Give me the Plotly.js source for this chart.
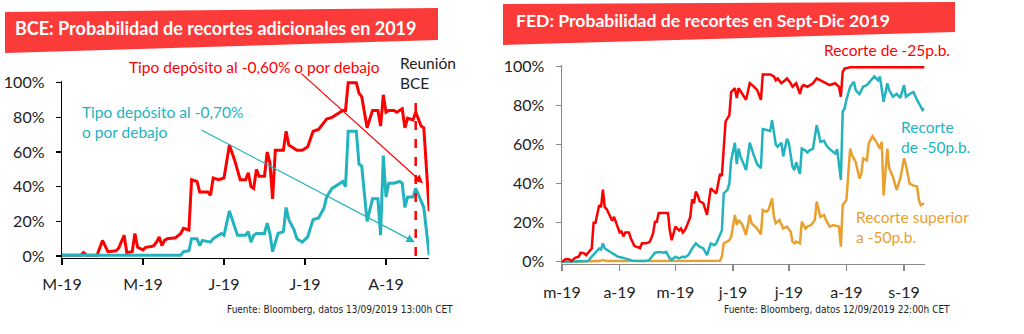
<!DOCTYPE html>
<html>
<head>
<meta charset="utf-8">
<script src="https://cdn.plot.ly/plotly-3.0.1.min.js"></script>
<style>
  html, body { margin: 0; padding: 0; background: #ffffff; }
  #chart { width: 1024px; height: 334px; }
</style>
</head>
<body>
<div id="chart"></div>
<script>
// ---------------- DATA ----------------
// BCE panel: x = trading session index (30 sessions per tick)
const bceTickVals = [0, 30, 60, 90, 120];
const bceTickText = ['M-19', 'M-19', 'J-19', 'J-19', 'A-19'];
const bceMeetingSession = 131;

const bce060Session = [0,7,8,9,13,15,17,20,21,23,24,26,27,28,30,31,33,34,35,36,37,38,39,42,44,45,47,48,50,51,54,55,56,58,60,62,64,66,68,69,70,71,72,73,75,76,77,78,79,82,83,84,85,87,89,91,93,95,97,98,100,102,104,105,106,109,110,111,113,115,117,118,119,120,121,123,124,126,127,128,130,131,133,134,136];
const bce060Prob    = [0.5,0.5,2,0.5,0.5,9,2.5,3,4.5,12,2,2.5,13,5,3.5,5,5.5,6,8,11,6,9,10,10.5,13,16,15,44,43,37,37,35,45,44,45,64,55,44,44,48,40,39,50,46,46,60,54,33,61,61,72,64,63,61,61,63,72,73,77,79,80,82,84,84,100,100,94,92,74,84,84,75,93,83,84,84,83,85,74,79.5,78.5,83,75,74,26];

const bce070Session = [0,44,45,47,48,50,51,52,55,56,59,60,62,64,65,68,69,70,71,72,75,76,77,78,80,82,83,84,86,87,89,91,93,95,97,98,100,102,104,105,106,109,110,111,113,115,117,118,119,120,121,123,125,126,127,128,130,131,133,134,136];
const bce070Prob    = [0.5,0.5,2.5,3,10,10,6,9,8,10,13,12,26,17,12,12,14,8,12,13,13,19,13,2.5,13,14,28,21,15,10,8,11,21,22,27.5,34,39,41,43,40,72,72,53,52,20,33,33,12,58,34,42,42,43,42,28,34,34,39,31,28,0.5];

// FED panel: x = days since 1 March 2019
const fedTickVals = [0, 31, 61, 92, 122, 153, 184];
const fedTickText = ['m-19', 'a-19', 'm-19', 'j-19', 'j-19', 'a-19', 's-19'];

const fed25Day  = [0,2,4,5,7,9,10,12,13,14,15,16,17,18,20,21,22,23,24,25,27,28,29,31,32,33,34,36,37,39,42,43,45,47,48,49,50,51,52,57,58,59,61,63,64,65,66,67,69,70,71,72,73,74,76,78,80,82,83,85,86,88,90,91,93,94,95,97,99,101,103,105,107,108,112,114,115,116,118,120,121,123,124,126,128,129,130,132,135,137,139,141,144,147,149,150,151,152,155,195];
const fed25Prob = [0,1.4,1.2,0.3,2,2.6,4.6,4.3,3.4,4.6,6,6.8,20,20,29,28,37,28,27,25,21,23,20,15,15.5,13,15,15,12,8,7,9.4,9.4,10,12,14.5,20.5,20.5,25,25,16,11,18,16,17,15,16,18,23,32,30,36,34,31,30,24,37.6,36,35,45,44,72,75,87,89,84,89,86,83,91.5,90,88,83,96,96,95,93,94,91.5,93,94,91.5,89.7,91.5,86,89.7,90.6,89.7,91.5,94,93,92,90.6,91.5,89.7,84.6,97.4,99,99.7,99.7];

const fed50Day  = [0,14,16,18,19,20,21,22,23,25,27,30,32,34,36,38,45,47,49,50,52,55,56,58,59,61,63,65,66,68,70,72,73,74,76,78,80,82,83,85,86,87,89,90,91,93,94,95,96,99,101,103,105,107,108,110,112,113,114,115,116,118,119,121,122,124,125,126,127,128,129,131,132,133,135,136,137,138,139,141,142,144,146,147,148,150,151,152,153,155,157,158,160,162,164,167,168,170,171,173,175,176,178,180,182,184,185,187,189,191,193,194,195];
const fed50Prob = [0,0.3,2.6,5,6,6.8,6.3,9.4,6.8,5.6,4.3,2.6,2.2,1.7,1.2,0.5,0.3,0.9,3.4,4.6,5,4.6,5,1.7,0.9,2.6,1.7,2.6,2.2,3.4,6.8,9.4,8.5,7.7,6.8,3.4,9.4,8.5,9.4,13.7,16,35,36.8,40,52,61,50,58,54,47,61,55,50,48,68,67.5,67,72.6,66,60,59,61,54,63,61,48.7,47,51,48,45,58,57,56,57,58,65,70,66,61.5,62,60,57.7,56,55.5,57.7,42,77,78.6,83,89.7,92.3,88,86,89.7,90.6,94,95,93,95,82,91.5,88,84.6,86,84,90.6,84.6,86,87,83,79.5,77.8,78.6];

const fedSupDay  = [0,20,22,24,85,86,87,90,91,92,93,94,95,97,99,101,102,105,107,108,110,111,113,114,115,117,119,121,123,124,125,126,128,129,131,132,134,136,137,139,141,142,144,146,149,150,151,153,155,156,158,160,161,162,164,165,167,169,171,172,173,175,176,178,180,182,184,185,187,189,191,192,193,195];
const fedSupProb = [0,0.3,0.9,0.3,0.5,2.6,9.4,11,12.8,19.7,24,18.8,21.4,19,13.7,24,19.7,17,14,26.5,25.6,26.5,32.5,23,19.7,21.4,17,18,15.4,10.3,9.4,10.3,9.4,20.5,17,18,18.8,21.4,30.8,23,24,21.4,18,18.8,18,7.7,29,31.6,58,54.7,51,42.7,45,53,52,60.7,64.4,61.5,58,61.5,34,58,47.9,43.6,36.8,42.7,53,49.6,40,39,38.5,31.6,29,29.9];

// ---------------- STYLE ----------------
const RED = '#ff0000';
const CYAN = '#22b3bf';
const ORANGE = '#e9a02e';
const BANNER = '#fb3a3a';
const TXT = '#222222';
const FONT = 'Lato, "Open Sans", sans-serif';
const SRC_FONT = '"Liberation Sans Narrow", "DejaVu Sans Condensed", sans-serif';

const W = 1024, H = 334;
const fx = p => p / W;
const fy = p => 1 - p / H;

const traces = [
  {x: bce060Session, y: bce060Prob, xaxis: 'x', yaxis: 'y', mode: 'lines', line: {color: RED, width: 3}, hoverinfo: 'skip'},
  {x: bce070Session, y: bce070Prob, xaxis: 'x', yaxis: 'y', mode: 'lines', line: {color: CYAN, width: 3}, hoverinfo: 'skip'},
  {x: fedSupDay, y: fedSupProb, xaxis: 'x2', yaxis: 'y2', mode: 'lines', line: {color: ORANGE, width: 2.5}, hoverinfo: 'skip'},
  {x: fed50Day, y: fed50Prob, xaxis: 'x2', yaxis: 'y2', mode: 'lines', line: {color: CYAN, width: 2.5}, hoverinfo: 'skip'},
  {x: fed25Day, y: fed25Prob, xaxis: 'x2', yaxis: 'y2', mode: 'lines', line: {color: RED, width: 2.5}, hoverinfo: 'skip'}
];

const tickFont = {family: FONT, size: 16, color: TXT};

const layout = {
  width: W, height: H,
  margin: {l: 0, r: 0, t: 0, b: 0},
  paper_bgcolor: '#ffffff', plot_bgcolor: 'rgba(0,0,0,0)',
  showlegend: false,
  xaxis: {
    domain: [fx(62), fx(62 + 136 * 2.7)], range: [0, 136],
    tickvals: bceTickVals, ticktext: bceTickText,
    showgrid: false, zeroline: false, showline: true, linecolor: '#000', linewidth: 1.3,
    ticks: 'outside', ticklen: 6, tickcolor: '#000', tickwidth: 1.3,
    tickfont: tickFont, ticklabelstandoff: 6
  },
  yaxis: {
    domain: [fy(256 + 1.733), fy(82.7 - 1.733)], range: [-1, 101],
    tickvals: [0, 20, 40, 60, 80, 100], ticktext: ['0%', '20%', '40%', '60%', '80%', '100%'],
    showgrid: false, zeroline: false, showline: true, linecolor: '#000', linewidth: 1.3,
    ticks: 'outside', ticklen: 5, tickcolor: '#000', tickwidth: 1.3,
    tickfont: tickFont, ticklabelstandoff: 8
  },
  xaxis2: {
    domain: [fx(562), fx(562 + 195 * 1.859)], range: [0, 195], anchor: 'y2',
    tickvals: fedTickVals, ticktext: fedTickText,
    showgrid: false, zeroline: false, showline: true, linecolor: '#8a8a8a', linewidth: 1.5,
    ticks: 'outside', ticklen: 6, tickcolor: '#8a8a8a', tickwidth: 1.5,
    tickfont: tickFont, ticklabelstandoff: 8
  },
  yaxis2: {
    domain: [fy(261.7 + 1.95), fy(66.7 - 1.95)], range: [-1, 101], anchor: 'x2',
    tickvals: [0, 20, 40, 60, 80, 100], ticktext: ['0%', '20%', '40%', '60%', '80%', '100%'],
    showgrid: false, zeroline: false, showline: true, linecolor: '#8a8a8a', linewidth: 1.5,
    ticks: 'outside', ticklen: 5, tickcolor: '#8a8a8a', tickwidth: 1.5,
    tickfont: tickFont, ticklabelstandoff: 8
  },
  shapes: [
    // title banners
    {type: 'path', xref: 'paper', yref: 'paper', layer: 'below',
     path: `M ${fx(5)},${fy(12)} L ${fx(438)},${fy(8)} L ${fx(438)},${fy(40)} L ${fx(5)},${fy(53)} Z`,
     fillcolor: BANNER, line: {width: 0}},
    {type: 'path', xref: 'paper', yref: 'paper', layer: 'below',
     path: `M ${fx(503)},${fy(4)} L ${fx(955)},${fy(2)} L ${fx(955)},${fy(32)} L ${fx(503)},${fy(45)} Z`,
     fillcolor: BANNER, line: {width: 0}},
    // ECB meeting dashed line
    {type: 'line', xref: 'x', yref: 'y', x0: bceMeetingSession, x1: bceMeetingSession, y0: 0, y1: 93,
     line: {color: RED, width: 2.5, dash: 'dash'}}
  ],
  annotations: [
    {xref: 'paper', yref: 'paper', x: fx(13), y: fy(28), xanchor: 'left', yanchor: 'middle', showarrow: false,
     text: '<b>BCE: Probabilidad de recortes adicionales en 2019</b>', font: {family: FONT, size: 18, color: '#fff'}},
    {xref: 'paper', yref: 'paper', x: fx(514), y: fy(20), xanchor: 'left', yanchor: 'middle', showarrow: false,
     text: '<b>FED: Probabilidad de recortes en Sept-Dic 2019</b>', font: {family: FONT, size: 17.6, color: '#fff'}},

    {xref: 'paper', yref: 'paper', x: fx(254), y: fy(67), xanchor: 'center', yanchor: 'middle', showarrow: false,
     text: 'Tipo depósito al -0,60% o por debajo', font: {family: FONT, size: 15.5, color: RED}},
    {xref: 'paper', yref: 'paper', x: fx(80), y: fy(121.5), xanchor: 'left', yanchor: 'middle', align: 'left', showarrow: false,
     text: 'Tipo depósito al -0,70%<br>o por debajo', font: {family: FONT, size: 15.5, color: CYAN}},
    {xref: 'paper', yref: 'paper', x: fx(398), y: fy(73), xanchor: 'left', yanchor: 'middle', align: 'left', showarrow: false,
     text: 'Reunión<br>BCE', font: {family: FONT, size: 15.5, color: TXT}},

    // arrows
    {xref: 'x', yref: 'y', x: 133.7, y: 42, ax: -123, ay: -111, text: '',
     showarrow: true, arrowhead: 2, arrowsize: 1.4, arrowwidth: 1.2, arrowcolor: RED},
    {xref: 'x', yref: 'y', x: 130.7, y: 8, ax: -215, ay: -113, text: '',
     showarrow: true, arrowhead: 2, arrowsize: 1.4, arrowwidth: 1.2, arrowcolor: CYAN},

    {xref: 'paper', yref: 'paper', x: fx(952), y: fy(50), xanchor: 'right', yanchor: 'middle', showarrow: false,
     text: 'Recorte de -25p.b.', font: {family: FONT, size: 15.5, color: RED}},
    {xref: 'paper', yref: 'paper', x: fx(899), y: fy(136.5), xanchor: 'left', yanchor: 'middle', align: 'left', showarrow: false,
     text: 'Recorte<br>de -50p.b.', font: {family: FONT, size: 15.5, color: CYAN}},
    {xref: 'paper', yref: 'paper', x: fx(854), y: fy(227), xanchor: 'left', yanchor: 'middle', align: 'left', showarrow: false,
     text: 'Recorte superior<br>a -50p.b.', font: {family: FONT, size: 15.5, color: ORANGE}},

    {xref: 'paper', yref: 'paper', x: fx(225), y: fy(309), xanchor: 'left', yanchor: 'middle', showarrow: false,
     text: 'Fuente: Bloomberg, datos 13/09/2019 13:00h CET', font: {family: SRC_FONT, size: 10, color: TXT}},
    {xref: 'paper', yref: 'paper', x: fx(722), y: fy(309), xanchor: 'left', yanchor: 'middle', showarrow: false,
     text: 'Fuente: Bloomberg, datos 12/09/2019 22:00h CET', font: {family: SRC_FONT, size: 10, color: TXT}}
  ]
};

Plotly.newPlot('chart', traces, layout, {staticPlot: true, displayModeBar: false});
</script>
</body>
</html>
